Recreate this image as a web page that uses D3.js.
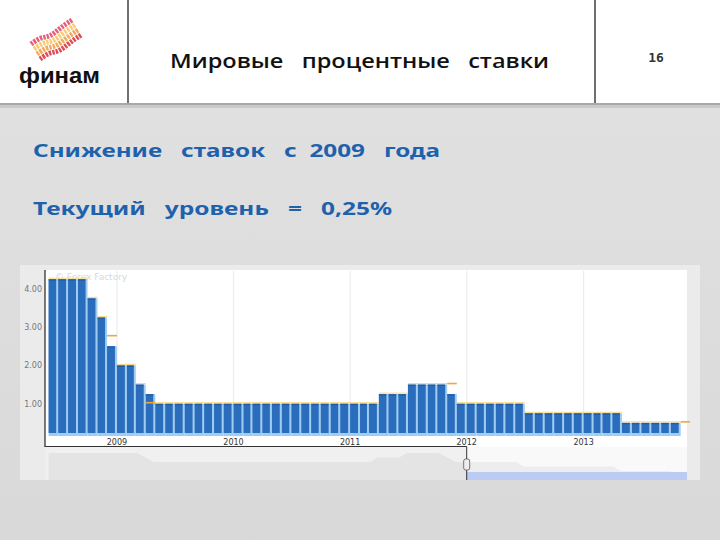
<!DOCTYPE html>
<html><head><meta charset="utf-8">
<script src="https://cdn.jsdelivr.net/npm/d3@7"></script>
<style>html,body{margin:0;padding:0;background:#dcdcdc;} svg{display:block}</style>
</head><body><svg id="c" width="720" height="540"></svg>
<script>
// ---- data ----
const months = [
  "2008-06","2008-07","2008-08","2008-09","2008-10","2008-11","2008-12",
  "2009-01","2009-02","2009-03","2009-04","2009-05","2009-06","2009-07","2009-08","2009-09","2009-10","2009-11","2009-12",
  "2010-01","2010-02","2010-03","2010-04","2010-05","2010-06","2010-07","2010-08","2010-09","2010-10","2010-11","2010-12",
  "2011-01","2011-02","2011-03","2011-04","2011-05","2011-06","2011-07","2011-08","2011-09","2011-10","2011-11","2011-12",
  "2012-01","2012-02","2012-03","2012-04","2012-05","2012-06","2012-07","2012-08","2012-09","2012-10","2012-11","2012-12",
  "2013-01","2013-02","2013-03","2013-04","2013-05","2013-06","2013-07","2013-08","2013-09","2013-10","2013-11"
];
const rates = [
  4.25,4.25,4.25,4.25,3.75,3.25,2.50,
  2.00,2.00,1.50,1.25,1.00,1.00,1.00,1.00,1.00,1.00,1.00,1.00,
  1.00,1.00,1.00,1.00,1.00,1.00,1.00,1.00,1.00,1.00,1.00,1.00,
  1.00,1.00,1.00,1.25,1.25,1.25,1.50,1.50,1.50,1.50,1.25,1.00,
  1.00,1.00,1.00,1.00,1.00,1.00,0.75,0.75,0.75,0.75,0.75,0.75,
  0.75,0.75,0.75,0.75,0.50,0.50,0.50,0.50,0.50,0.50,null
];
const forecast = [
  4.25,4.25,4.25,4.25,3.75,3.25,2.75,
  2.00,2.00,1.50,1.00,1.00,1.00,1.00,1.00,1.00,1.00,1.00,1.00,
  1.00,1.00,1.00,1.00,1.00,1.00,1.00,1.00,1.00,1.00,1.00,1.00,
  1.00,1.00,1.00,1.25,1.25,1.25,1.50,1.50,1.50,1.50,1.50,1.00,
  1.00,1.00,1.00,1.00,1.00,1.00,0.75,0.75,0.75,0.75,0.75,0.75,
  0.75,0.75,0.75,0.75,0.50,0.50,0.50,0.50,0.50,0.50,0.50
];
const yearLabels = ["2009","2010","2011","2012","2013"];
const yTicks = [1,2,3,4];
const titleText = "Мировые   процентные   ставки";
const line1 = "Снижение   ставок   с  2009   года";
const line2 = "Текущий   уровень   =   0,25%";
const pageNo = "16";
const logoText = "финам";

// ---- drawing ----
const svg = d3.select("#c");
const parse = d3.timeParse("%Y-%m");
const dates = months.map(parse);
const endDate = new Date(2013, 11, 1);

// background
const defs = svg.append("defs");
const g1 = defs.append("linearGradient").attr("id","bg").attr("x1",0).attr("y1",0).attr("x2",0).attr("y2",1);
g1.append("stop").attr("offset","0").attr("stop-color","#e2e2e2");
g1.append("stop").attr("offset","1").attr("stop-color","#d9d9d9");
svg.append("rect").attr("width",720).attr("height",540).attr("fill","url(#bg)");

// header
svg.append("rect").attr("x",0).attr("y",0).attr("width",720).attr("height",103).attr("fill","#ffffff");
svg.append("rect").attr("x",0).attr("y",103).attr("width",720).attr("height",2).attr("fill","#a8a8a8");
svg.append("rect").attr("x",0).attr("y",105).attr("width",720).attr("height",3).attr("fill","#c9c9c9");
[128,595].forEach(xx => svg.append("line").attr("x1",xx).attr("x2",xx).attr("y1",0).attr("y2",103)
  .attr("stroke","#333").attr("stroke-width",1.4));

// logo ribbons
const ribbonColors = ["#e2506c","#f6c766","#f1a04a","#d83a44"];
const lineGen = d3.line().curve(d3.curveBasis);
ribbonColors.forEach((c,k) => {
  const dx = k*3, dy = k*5;
  const pts = [[31+dx,44+dy],[41+dx,37+dy],[50+dx,37+dy],[60+dx,28+dy],[72+dx,20+dy]];
  svg.append("path").attr("d", lineGen(pts)).attr("fill","none")
    .attr("stroke", c).attr("stroke-width", 5).attr("stroke-dasharray","2.4,1.1").attr("opacity",0.9);
});
svg.append("text").attr("x",19).attr("y",83).text(logoText)
  .attr("font-family","Liberation Sans, Arial, sans-serif").attr("font-weight","bold")
  .attr("font-size",22).attr("fill","#111").attr("textLength",81).attr("lengthAdjust","spacingAndGlyphs");

// title
svg.append("text").attr("x",170).attr("y",68).text(titleText)
  .style("white-space","pre")
  .attr("font-family","Open Sans, sans-serif").attr("font-weight",600).attr("font-size",20).attr("fill","#111")
  .attr("textLength",379).attr("lengthAdjust","spacingAndGlyphs");
svg.append("text").attr("x",656).attr("y",62).attr("text-anchor","middle").text(pageNo)
  .attr("font-family","DejaVu Sans Mono, monospace").attr("font-weight","bold").attr("font-size",13).attr("fill","#333");

// body text
svg.append("text").attr("x",33).attr("y",157).text(line1).style("white-space","pre")
  .attr("font-family","Noto Sans, sans-serif").attr("font-weight","bold").attr("font-size",18)
  .attr("fill","#1e62ad").attr("textLength",407).attr("lengthAdjust","spacingAndGlyphs");
svg.append("text").attr("x",33).attr("y",215).text(line2).style("white-space","pre")
  .attr("font-family","Noto Sans, sans-serif").attr("font-weight","bold").attr("font-size",18)
  .attr("fill","#1e62ad").attr("textLength",359).attr("lengthAdjust","spacingAndGlyphs");

// chart panel
svg.append("rect").attr("x",20).attr("y",265).attr("width",680).attr("height",215).attr("fill","#ebebeb");
svg.append("rect").attr("x",45).attr("y",270).attr("width",642).attr("height",177).attr("fill","#ffffff");

const x = d3.scaleTime().domain([dates[0], dates[dates.length-1]]).range([48.6, 680.7]);
const y = d3.scaleLinear().domain([0, 4.6]).range([442, 265.8]);

// year gridlines
const yearDates = yearLabels.map(s => parse(s + "-01"));
svg.append("g").selectAll("line").data(yearDates).join("line")
  .attr("x1", d => x(d)).attr("x2", d => x(d)).attr("y1", 271).attr("y2", 440)
  .attr("stroke", "#ececec").attr("stroke-width", 1.2);

// watermark
svg.append("text").attr("x",55).attr("y",280).text("© Forex Factory")
  .attr("font-family","DejaVu Sans, sans-serif").attr("font-size",9).attr("fill","#d3dae4");

// bars
const barData = rates.map((v,i) => ({v, d: dates[i], n: dates[i+1] || endDate})).filter(o => o.v !== null);
const barBottom = 433;
svg.append("g").selectAll("rect").data(barData).join("rect")
  .attr("x", o => x(o.d)).attr("width", o => x(o.n) - x(o.d))
  .attr("y", o => y(o.v)).attr("height", o => barBottom + 3 - y(o.v))
  .attr("fill", "#9fcdf2");
svg.append("g").selectAll("rect").data(barData).join("rect")
  .attr("x", o => x(o.d)).attr("width", o => x(o.n) - x(o.d) - 2)
  .attr("y", o => y(o.v)).attr("height", o => barBottom - y(o.v))
  .attr("fill", "#2a6dbd");
svg.append("g").selectAll("rect").data(barData).join("rect")
  .attr("x", o => x(o.d)).attr("width", o => x(o.n) - x(o.d) - 2)
  .attr("y", o => y(o.v)).attr("height", 1.5)
  .attr("fill", "#1f5290").attr("opacity",0.6);

// forecast markers
const fData = forecast.map((v,i) => ({v, r: rates[i], d: dates[i], n: dates[i+1] || endDate}));
svg.append("g").selectAll("line").data(fData).join("line")
  .attr("x1", o => x(o.d)).attr("x2", o => Math.min(x(o.n), 690))
  .attr("y1", o => y(o.v) - 1).attr("y2", o => y(o.v) - 1)
  .attr("stroke", o => (o.r === null || o.v !== o.r) ? "#f1a83a" : "#f6d98a")
  .attr("stroke-width", o => (o.r === null || o.v !== o.r) ? 1.6 : 1.1);

// y axis labels
svg.append("g").selectAll("text").data(yTicks).join("text")
  .attr("x", 42).attr("y", d => y(d) + 3).attr("text-anchor","end")
  .text(d3.format(".2f"))
  .attr("font-family","DejaVu Sans, sans-serif").attr("font-size",8).attr("fill","#777");

// year labels
svg.append("g").selectAll("text").data(yearDates).join("text")
  .attr("x", d => x(d)).attr("y", 444.5).attr("text-anchor","middle")
  .text((d,i) => yearLabels[i])
  .attr("font-family","DejaVu Sans, sans-serif").attr("font-size",8).attr("fill","#333");

// navigator
const navTop = 447, navBot = 480;
const splitX = x(parse("2012-01"));
svg.append("rect").attr("x",45).attr("y",navTop).attr("width",642).attr("height",navBot-navTop).attr("fill","#f9f9f9");
const yn = d3.scaleLinear().domain([0,1.5]).range([navBot, navTop+6]).clamp(true);
const navArea = d3.area().x(o => x(o.d)).y0(navBot).y1(o => yn(o.v)).curve(d3.curveMonotoneX);
svg.append("path").datum(barData).attr("d", navArea).attr("fill","#ededed");
svg.append("rect").attr("x",45).attr("y",navTop).attr("width",splitX-45).attr("height",navBot-navTop)
  .attr("fill","#000").attr("opacity",0.035);
svg.append("rect").attr("x",splitX).attr("y",472).attr("width",687-splitX).attr("height",8).attr("fill","#bccbf1");

// axes frame
svg.append("line").attr("x1",45).attr("x2",45).attr("y1",270).attr("y2",447).attr("stroke","#222").attr("stroke-width",1.2);
svg.append("line").attr("x1",45).attr("x2",splitX).attr("y1",446.5).attr("y2",446.5).attr("stroke","#333").attr("stroke-width",1);
svg.append("line").attr("x1",splitX).attr("x2",splitX).attr("y1",446.5).attr("y2",navBot).attr("stroke","#333").attr("stroke-width",1);
svg.append("rect").attr("x",splitX-3).attr("y",459).attr("width",6).attr("height",11).attr("rx",2)
  .attr("fill","#eee").attr("stroke","#555").attr("stroke-width",0.8);
</script>
</body></html>
